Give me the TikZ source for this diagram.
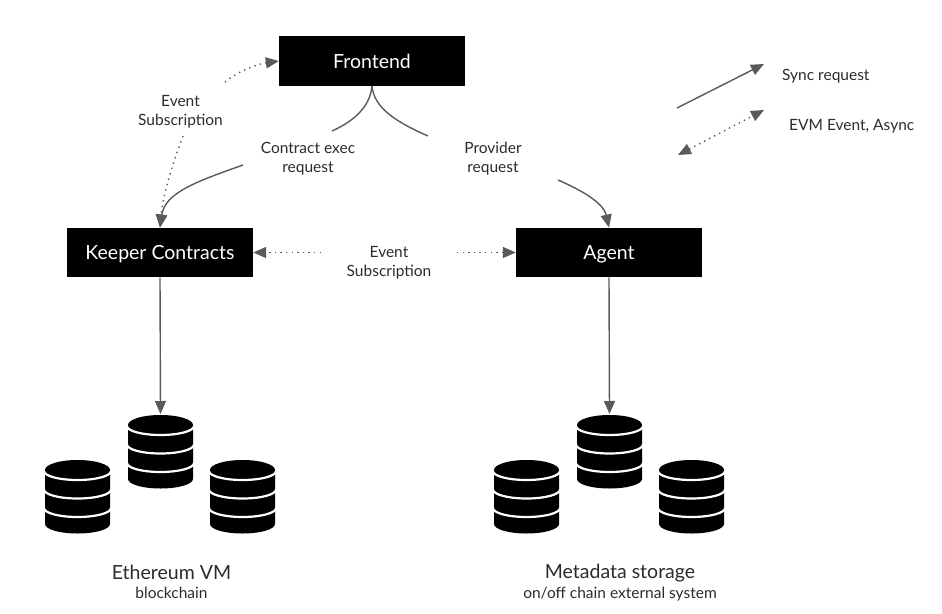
\documentclass[tikz,border=0pt]{standalone}
\usepackage{fontspec}
\setmainfont{Lato}
\usetikzlibrary{arrows.meta}

\definecolor{linegray}{HTML}{5A5A5A}
\definecolor{textgray}{HTML}{2B2B2B}

\begin{document}
\begin{tikzpicture}[x=1pt,y=-1pt,
  blackbox/.style={fill=black,text=white,inner sep=0,minimum width=186,minimum height=49.5,text height=17,text depth=2.4,font=\fontsize{19.5}{21}\selectfont},
  label/.style={text=textgray,align=center,inner sep=0,font=\fontsize{15.5}{19}\selectfont},
  biglabel/.style={text=textgray,inner sep=0,font=\fontsize{19.5}{22}\selectfont},
  solidline/.style={linegray,line width=1.4,-{Triangle[length=13,width=11]}},
  eventline/.style={linegray,line width=1.4,dash pattern=on 1.4 off 4.2,-{Triangle[length=13,width=11]}},
  dbstack/.pic={
    \fill [black] (-32.5,10) arc [start angle=180,end angle=360,x radius=32.5,y radius=10] -- (32.5,64) arc [start angle=0,end angle=180,x radius=32.5,y radius=9.5] -- cycle;
    \foreach \y in {11,29.5,48} {
      \draw [white,line width=2.2] (-33.5,\y) arc [start angle=180,end angle=0,x radius=33.5,y radius=9];
    }
  }]

\useasboundingbox (0,0) rectangle (942,613);

\node [blackbox] (frontend) at (372,61) {Frontend};
\node [blackbox] (keeper) at (160,252.5) {Keeper Contracts};
\node [blackbox] (agent) at (609,252.5) {Agent};

\node [label] (eventleft) at (180.5,111.5) {Event\\Subscription};
\node [label] (contractexec) at (308,158.5) {Contract exec\\request};
\node [label] (provider) at (493,158.5) {Provider\\request};
\node [label] (eventmid) at (389,262.5) {Event\\Subscription};
\node [label,anchor=west] (syncreq) at (782,76) {Sync request};
\node [label,anchor=west] (evmevent) at (789,126) {EVM Event, Async};

\node [biglabel] (ethereum) at (171.5,572) {Ethereum VM};
\node [label] (blockchain) at (171.5,593) {blockchain};
\node [biglabel] (metadata) at (620,573.5) {Metadata storage};
\node [label] (onoff) at (620,594) {on/off chain external system};

% free ends of the cut connectors
\coordinate (contractend) at (332,131);
\coordinate (contractstart) at (243,165);
\coordinate (providerend) at (428,136);
\coordinate (providerstart) at (558,180);
\coordinate (eventend) at (225,82);
\coordinate (eventstart) at (183,136);
\coordinate (midleft) at (321,252.5);
\coordinate (midright) at (457,252.5);
\coordinate (syncstart) at (677,108);
\coordinate (syncend) at (764,64);
\coordinate (asyncstart) at (678,155);
\coordinate (asyncend) at (764,110);

\pic (dbleftb) at (77.5,460) {dbstack};
\pic (dblefta) at (160.5,415) {dbstack};
\pic (dbleftc) at (242.5,460) {dbstack};
\pic (dbrightb) at (526.5,460) {dbstack};
\pic (dbrighta) at (609.5,415) {dbstack};
\pic (dbrightc) at (691.5,460) {dbstack};

\coordinate (keepertarget) at (160.5,414);
\coordinate (agenttarget) at (609.5,414);

\draw [linegray,line width=1.4] (frontend.south) .. controls (370,108) and (352,122) .. (contractend);
\draw [linegray,line width=1.4] (frontend.south) .. controls (374,108) and (396,122) .. (providerend);
\draw [solidline] (contractstart) .. controls (195,182) and (165,193) .. (keeper.north);
\draw [solidline] (providerstart) .. controls (588,193) and (604,205) .. (agent.north);
\draw [eventline] (eventend) .. controls (240,70) and (258,64) .. (frontend.west);
\draw [eventline] (eventstart) .. controls (172,165) and (163,195) .. (keeper.north);
\draw [eventline] (midleft) -- (keeper.east);
\draw [eventline] (midright) -- (agent.west);
\draw [solidline] (keeper.south) -- (keepertarget);
\draw [solidline] (agent.south) -- (agenttarget);

\draw [solidline] (syncstart) -- (syncend);
\draw [eventline,{Triangle[length=13,width=11]}-{Triangle[length=13,width=11]}] (asyncstart) -- (asyncend);

\end{tikzpicture}
\end{document}
